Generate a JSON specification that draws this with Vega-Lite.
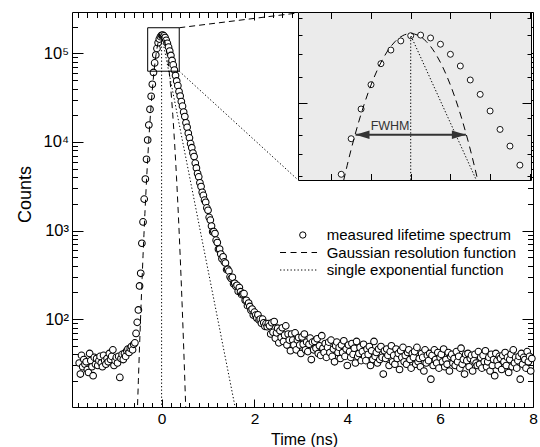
{
  "$schema": "https://vega.github.io/schema/vega-lite/v6.json",
  "width": 461,
  "height": 395,
  "autosize": {"type": "none"},
  "padding": {"left": 72, "top": 12, "right": 7, "bottom": 40},
  "background": "white",
  "config": {
    "font": "Liberation Sans",
    "view": {"stroke": null},
    "axis": {"grid": false, "labelFont": "Liberation Sans", "titleFont": "Liberation Sans", "labelColor": "black", "titleColor": "black", "domainColor": "black", "tickColor": "black", "titleFontWeight": "normal", "labelFontSize": 15.5, "titleFontSize": 16, "tickWidth": 1, "domainWidth": 1, "labelFlush": false, "labelOverlap": false, "labelBound": false},
    "legend": {"labelFont": "Liberation Sans", "labelFontSize": 15, "labelColor": "black", "labelLimit": 400, "padding": 0, "symbolOffset": 0, "rowPadding": 1.5, "labelOffset": 16.4, "symbolStrokeWidth": 1, "symbolStrokeColor": "black"}
  },
  "datasets": {
    "measured": [
      {"t":-1.775,"v":32},{"t":-1.75,"v":24},{"t":-1.725,"v":39},{"t":-1.7,"v":29},{"t":-1.675,"v":35},{"t":-1.65,"v":31},{"t":-1.625,"v":33},{"t":-1.6,"v":27},{"t":-1.575,"v":25},{"t":-1.55,"v":41},
      {"t":-1.525,"v":34},{"t":-1.5,"v":29},{"t":-1.475,"v":23},{"t":-1.45,"v":37},{"t":-1.425,"v":31},{"t":-1.4,"v":36},{"t":-1.375,"v":30},{"t":-1.35,"v":34},{"t":-1.325,"v":38},{"t":-1.3,"v":32},
      {"t":-1.275,"v":29},{"t":-1.25,"v":39},{"t":-1.225,"v":34},{"t":-1.2,"v":31},{"t":-1.175,"v":36},{"t":-1.15,"v":33},{"t":-1.125,"v":41},{"t":-1.1,"v":35},{"t":-1.075,"v":38},{"t":-1.05,"v":45},
      {"t":-1.025,"v":30},{"t":-1.0,"v":34},{"t":-0.975,"v":37},{"t":-0.95,"v":32},{"t":-0.925,"v":38},{"t":-0.9,"v":22},{"t":-0.875,"v":36},{"t":-0.85,"v":40},{"t":-0.825,"v":35},{"t":-0.8,"v":41},
      {"t":-0.775,"v":38},{"t":-0.75,"v":44},{"t":-0.725,"v":46},{"t":-0.7,"v":42},{"t":-0.675,"v":47},{"t":-0.65,"v":49},{"t":-0.625,"v":45},{"t":-0.6,"v":52},{"t":-0.575,"v":54},{"t":-0.55,"v":69},
      {"t":-0.525,"v":92},{"t":-0.5,"v":127},{"t":-0.475,"v":237},{"t":-0.45,"v":329},{"t":-0.425,"v":718},{"t":-0.4,"v":1250},{"t":-0.375,"v":2260},{"t":-0.35,"v":3810},{"t":-0.325,"v":6370},{"t":-0.3,"v":10500},
      {"t":-0.275,"v":15500},{"t":-0.25,"v":23300},{"t":-0.225,"v":32700},{"t":-0.2,"v":44700},{"t":-0.175,"v":60700},{"t":-0.15,"v":77800},{"t":-0.125,"v":95700},{"t":-0.1,"v":113400},{"t":-0.075,"v":131300},{"t":-0.05,"v":144400},
      {"t":-0.025,"v":153900},{"t":0,"v":159600},{"t":0.025,"v":160300},{"t":0.05,"v":157100},{"t":0.075,"v":150400},{"t":0.1,"v":140200},{"t":0.125,"v":129200},{"t":0.15,"v":117200},{"t":0.175,"v":106000},{"t":0.2,"v":94400},
      {"t":0.225,"v":83000},{"t":0.25,"v":73900},{"t":0.275,"v":64700},{"t":0.3,"v":56200},{"t":0.325,"v":48700},{"t":0.35,"v":43100},{"t":0.375,"v":37000},{"t":0.4,"v":32900},{"t":0.425,"v":28500},{"t":0.45,"v":25300},
      {"t":0.475,"v":21700},{"t":0.5,"v":19300},{"t":0.525,"v":16400},{"t":0.55,"v":14600},{"t":0.575,"v":12500},{"t":0.6,"v":11100},{"t":0.625,"v":9550},{"t":0.65,"v":8600},{"t":0.675,"v":7480},{"t":0.7,"v":6830},
      {"t":0.725,"v":5760},{"t":0.75,"v":5080},{"t":0.775,"v":4400},{"t":0.8,"v":4030},{"t":0.825,"v":3460},{"t":0.85,"v":3130},{"t":0.875,"v":2700},{"t":0.9,"v":2490},{"t":0.925,"v":2200},{"t":0.95,"v":2080},
      {"t":0.975,"v":1800},{"t":1.0,"v":1693},{"t":1.025,"v":1407},{"t":1.05,"v":1310},{"t":1.075,"v":1124},{"t":1.1,"v":969},{"t":1.125,"v":972},{"t":1.15,"v":923},{"t":1.175,"v":778},{"t":1.2,"v":731},
      {"t":1.225,"v":614},{"t":1.25,"v":618},{"t":1.275,"v":543},{"t":1.3,"v":481},{"t":1.325,"v":506},{"t":1.35,"v":443},{"t":1.375,"v":430},{"t":1.4,"v":362},{"t":1.425,"v":366},{"t":1.45,"v":348},
      {"t":1.475,"v":300},{"t":1.5,"v":288},{"t":1.525,"v":297},{"t":1.55,"v":250},{"t":1.575,"v":254},{"t":1.6,"v":235},{"t":1.625,"v":241},{"t":1.65,"v":206},{"t":1.675,"v":227},{"t":1.7,"v":204},
      {"t":1.725,"v":189},{"t":1.75,"v":192},{"t":1.775,"v":194},{"t":1.8,"v":163},{"t":1.825,"v":163},{"t":1.85,"v":142},{"t":1.875,"v":152},{"t":1.9,"v":139},{"t":1.925,"v":126},{"t":1.95,"v":130},
      {"t":1.975,"v":111},{"t":2.0,"v":120},{"t":2.025,"v":111},{"t":2.05,"v":103},{"t":2.075,"v":112},{"t":2.1,"v":98},{"t":2.125,"v":100},{"t":2.15,"v":90},{"t":2.175,"v":100},{"t":2.2,"v":91},
      {"t":2.225,"v":83},{"t":2.25,"v":89},{"t":2.275,"v":82},{"t":2.3,"v":89},{"t":2.325,"v":84},{"t":2.35,"v":68},{"t":2.375,"v":91},{"t":2.4,"v":71},{"t":2.425,"v":94},{"t":2.45,"v":61},
      {"t":2.475,"v":70},{"t":2.5,"v":79},{"t":2.525,"v":54},{"t":2.55,"v":74},{"t":2.575,"v":62},{"t":2.6,"v":80},{"t":2.625,"v":56},{"t":2.65,"v":66},{"t":2.675,"v":84},{"t":2.7,"v":51},
      {"t":2.725,"v":68},{"t":2.75,"v":58},{"t":2.775,"v":44},{"t":2.8,"v":68},{"t":2.825,"v":58},{"t":2.85,"v":51},{"t":2.875,"v":70},{"t":2.9,"v":45},{"t":2.925,"v":58},{"t":2.95,"v":62},
      {"t":2.975,"v":51},{"t":3.0,"v":41},{"t":3.025,"v":63},{"t":3.05,"v":52},{"t":3.075,"v":68},{"t":3.1,"v":45},{"t":3.125,"v":55},{"t":3.15,"v":43},{"t":3.175,"v":52},{"t":3.2,"v":61},
      {"t":3.225,"v":35},{"t":3.25,"v":55},{"t":3.275,"v":45},{"t":3.3,"v":56},{"t":3.325,"v":47},{"t":3.35,"v":60},{"t":3.375,"v":41},{"t":3.4,"v":50},{"t":3.425,"v":39},{"t":3.45,"v":65},
      {"t":3.475,"v":47},{"t":3.5,"v":42},{"t":3.525,"v":53},{"t":3.55,"v":37},{"t":3.575,"v":48},{"t":3.6,"v":55},{"t":3.625,"v":42},{"t":3.65,"v":58},{"t":3.675,"v":38},{"t":3.7,"v":46},
      {"t":3.725,"v":33},{"t":3.75,"v":50},{"t":3.775,"v":55},{"t":3.8,"v":42},{"t":3.825,"v":48},{"t":3.85,"v":36},{"t":3.875,"v":51},{"t":3.9,"v":42},{"t":3.925,"v":57},{"t":3.95,"v":38},
      {"t":3.975,"v":46},{"t":4.0,"v":30},{"t":4.025,"v":51},{"t":4.05,"v":43},{"t":4.075,"v":37},{"t":4.1,"v":53},{"t":4.125,"v":40},{"t":4.15,"v":47},{"t":4.175,"v":32},{"t":4.2,"v":56},
      {"t":4.225,"v":38},{"t":4.25,"v":41},{"t":4.275,"v":48},{"t":4.3,"v":34},{"t":4.325,"v":43},{"t":4.35,"v":52},{"t":4.375,"v":38},{"t":4.4,"v":34},{"t":4.425,"v":46},{"t":4.45,"v":40},
      {"t":4.475,"v":49},{"t":4.5,"v":30},{"t":4.525,"v":44},{"t":4.55,"v":35},{"t":4.575,"v":56},{"t":4.6,"v":38},{"t":4.625,"v":42},{"t":4.65,"v":32},{"t":4.675,"v":46},{"t":4.7,"v":35},
      {"t":4.725,"v":49},{"t":4.75,"v":37},{"t":4.775,"v":24},{"t":4.8,"v":44},{"t":4.825,"v":36},{"t":4.85,"v":46},{"t":4.875,"v":39},{"t":4.9,"v":30},{"t":4.925,"v":43},{"t":4.95,"v":50},
      {"t":4.975,"v":33},{"t":5.0,"v":39},{"t":5.025,"v":31},{"t":5.05,"v":46},{"t":5.075,"v":36},{"t":5.1,"v":41},{"t":5.125,"v":27},{"t":5.15,"v":44},{"t":5.175,"v":37},{"t":5.2,"v":48},
      {"t":5.225,"v":33},{"t":5.25,"v":39},{"t":5.275,"v":31},{"t":5.3,"v":42},{"t":5.325,"v":45},{"t":5.35,"v":35},{"t":5.375,"v":28},{"t":5.4,"v":41},{"t":5.425,"v":37},{"t":5.45,"v":43},
      {"t":5.475,"v":31},{"t":5.5,"v":48},{"t":5.525,"v":33},{"t":5.55,"v":36},{"t":5.575,"v":29},{"t":5.6,"v":41},{"t":5.625,"v":37},{"t":5.65,"v":26},{"t":5.675,"v":45},{"t":5.7,"v":32},
      {"t":5.725,"v":39},{"t":5.75,"v":34},{"t":5.775,"v":41},{"t":5.8,"v":21},{"t":5.825,"v":39},{"t":5.85,"v":30},{"t":5.875,"v":45},{"t":5.9,"v":35},{"t":5.925,"v":32},{"t":5.95,"v":42},
      {"t":5.975,"v":28},{"t":6.0,"v":37},{"t":6.025,"v":40},{"t":6.05,"v":33},{"t":6.075,"v":46},{"t":6.1,"v":29},{"t":6.125,"v":35},{"t":6.15,"v":31},{"t":6.175,"v":42},{"t":6.2,"v":26},
      {"t":6.225,"v":38},{"t":6.25,"v":40},{"t":6.275,"v":32},{"t":6.3,"v":36},{"t":6.325,"v":30},{"t":6.35,"v":43},{"t":6.375,"v":33},{"t":6.4,"v":38},{"t":6.425,"v":28},{"t":6.45,"v":47},
      {"t":6.475,"v":31},{"t":6.5,"v":35},{"t":6.525,"v":24},{"t":6.55,"v":40},{"t":6.575,"v":34},{"t":6.6,"v":41},{"t":6.625,"v":29},{"t":6.65,"v":36},{"t":6.675,"v":39},{"t":6.7,"v":26},
      {"t":6.725,"v":34},{"t":6.75,"v":40},{"t":6.775,"v":32},{"t":6.8,"v":30},{"t":6.825,"v":43},{"t":6.85,"v":31},{"t":6.875,"v":37},{"t":6.9,"v":28},{"t":6.925,"v":39},{"t":6.95,"v":33},
      {"t":6.975,"v":44},{"t":7.0,"v":29},{"t":7.025,"v":33},{"t":7.05,"v":37},{"t":7.075,"v":26},{"t":7.1,"v":40},{"t":7.125,"v":30},{"t":7.15,"v":35},{"t":7.175,"v":23},{"t":7.2,"v":41},
      {"t":7.225,"v":34},{"t":7.25,"v":30},{"t":7.275,"v":38},{"t":7.3,"v":36},{"t":7.325,"v":27},{"t":7.35,"v":39},{"t":7.375,"v":33},{"t":7.4,"v":42},{"t":7.425,"v":30},{"t":7.45,"v":37},
      {"t":7.475,"v":25},{"t":7.5,"v":35},{"t":7.525,"v":40},{"t":7.55,"v":29},{"t":7.575,"v":45},{"t":7.6,"v":32},{"t":7.625,"v":37},{"t":7.65,"v":28},{"t":7.675,"v":34},{"t":7.7,"v":38},
      {"t":7.725,"v":21},{"t":7.75,"v":41},{"t":7.775,"v":31},{"t":7.8,"v":37},{"t":7.825,"v":35},{"t":7.85,"v":28},{"t":7.875,"v":43},{"t":7.9,"v":33},{"t":7.925,"v":38},{"t":7.95,"v":26},
      {"t":7.975,"v":36}
    ],
    "gauss": [
      {"t":-0.56,"v":2.09},{"t":-0.54,"v":4.6},{"t":-0.52,"v":9.86},{"t":-0.5,"v":20.5},{"t":-0.48,"v":41.5},{"t":-0.46,"v":81.4},{"t":-0.44,"v":155.4},{"t":-0.42,"v":288},{"t":-0.4,"v":518.7},{"t":-0.38,"v":908},
      {"t":-0.36,"v":1545},{"t":-0.34,"v":2554},{"t":-0.32,"v":4101},{"t":-0.3,"v":6400},{"t":-0.28,"v":9711},{"t":-0.26,"v":14308},{"t":-0.24,"v":20487},{"t":-0.22,"v":28506},{"t":-0.2,"v":38537},{"t":-0.18,"v":50623},
      {"t":-0.16,"v":64620},{"t":-0.14,"v":80153},{"t":-0.12,"v":96604},{"t":-0.1,"v":113136},{"t":-0.08,"v":128750},{"t":-0.06,"v":142360},{"t":-0.04,"v":152957},{"t":-0.02,"v":159690},{"t":0,"v":162000},
      {"t":0.02,"v":159690},{"t":0.04,"v":152957},{"t":0.06,"v":142360},{"t":0.08,"v":128750},{"t":0.1,"v":113136},{"t":0.12,"v":96604},{"t":0.14,"v":80153},{"t":0.16,"v":64620},{"t":0.18,"v":50623},{"t":0.2,"v":38537},
      {"t":0.22,"v":28506},{"t":0.24,"v":20487},{"t":0.26,"v":14308},{"t":0.28,"v":9711},{"t":0.3,"v":6400},{"t":0.32,"v":4101},{"t":0.34,"v":2554},{"t":0.36,"v":1545},{"t":0.38,"v":908},{"t":0.4,"v":518.7},
      {"t":0.42,"v":288},{"t":0.44,"v":155.4},{"t":0.46,"v":81.4},{"t":0.48,"v":41.5},{"t":0.5,"v":20.5},{"t":0.52,"v":9.86},{"t":0.54,"v":4.6},{"t":0.56,"v":2.09}
    ],
    "gaussInset": [
      {"t":-0.169,"v":58100},{"t":-0.16,"v":64620},{"t":-0.14,"v":80153},{"t":-0.12,"v":96604},{"t":-0.1,"v":113136},{"t":-0.08,"v":128750},{"t":-0.06,"v":142360},{"t":-0.04,"v":152957},{"t":-0.02,"v":159690},{"t":0,"v":162000},
      {"t":0.02,"v":159690},{"t":0.04,"v":152957},{"t":0.06,"v":142360},{"t":0.08,"v":128750},{"t":0.1,"v":113136},{"t":0.12,"v":96604},{"t":0.14,"v":80153},{"t":0.16,"v":64620},{"t":0.169,"v":58100}
    ]
  },
  "resolve": {"scale": {"x": "independent", "y": "independent"}},
  "layer": [
    {
      "encoding": {
        "x": {"field": "t", "type": "quantitative",
          "scale": {"domain": [-1.93, 8], "nice": false, "zero": false},
          "axis": {"orient": "bottom", "title": "Time (ns)", "titleX": 232, "titleY": 24, "titleAnchor": "middle",
            "values": [-1.8,-1.6,-1.4,-1.2,-1,-0.8,-0.6,-0.4,-0.2,0,0.2,0.4,0.6,0.8,1,1.2,1.4,1.6,1.8,2,2.2,2.4,2.6,2.8,3,3.2,3.4,3.6,3.8,4,4.2,4.4,4.6,4.8,5,5.2,5.4,5.6,5.8,6,6.2,6.4,6.6,6.8,7,7.2,7.4,7.6,7.8,8],
            "tickSize": {"condition": {"test": "datum.value % 2 === 0", "value": -8}, "value": -4.5},
            "labelPadding": 12.5,
            "labelExpr": "datum.value % 2 === 0 ? format(datum.value, 'd') : ''"}},
        "y": {"field": "v", "type": "quantitative",
          "scale": {"type": "log", "domain": [10.2, 292000], "nice": false},
          "axis": {"orient": "left", "title": "Counts", "titleX": -38, "titleY": 182, "titleAnchor": "middle", "titleFontSize": 18, "labelFontSize": 16.5,
            "values": [20,30,40,50,60,70,80,90,100,200,300,400,500,600,700,800,900,1000,2000,3000,4000,5000,6000,7000,8000,9000,10000,20000,30000,40000,50000,60000,70000,80000,90000,100000,200000],
            "tickSize": {"condition": {"test": "datum.value === 100 || datum.value === 1000 || datum.value === 10000 || datum.value === 100000", "value": -11}, "value": -5.5},
            "labelPadding": 14.5,
            "labelExpr": "datum.value === 100 ? '10²' : datum.value === 1000 ? '10³' : datum.value === 10000 ? '10⁴' : datum.value === 100000 ? '10⁵' : ''"}}
      },
      "layer": [
        {
          "data": {"name": "measured"},
          "mark": {"type": "point", "filled": false, "fill": "white", "strokeWidth": 1.05, "size": 44, "opacity": 1},
          "encoding": {
            "color": {"datum": "measured lifetime spectrum", "type": "nominal",
              "scale": {"domain": ["measured lifetime spectrum"], "range": ["black"]},
              "legend": {"title": null, "orient": "none", "legendX": 223.3, "legendY": 215.5, "symbolSize": 40, "symbolType": "circle", "symbolStrokeWidth": 1}}
          }
        },
        {
          "data": {"values": [{"t": -0.3, "v": 62700, "t2": 0.38, "v2": 194000}]},
          "mark": {"type": "rect", "fill": "transparent", "stroke": "black", "strokeWidth": 1},
          "encoding": {"x2": {"field": "t2"}, "y2": {"field": "v2"}}
        },
        {
          "data": {"values": [{"t": 0.38, "v": 194000, "t2": 2.939, "v2": 285000}]},
          "mark": {"type": "rule", "stroke": "black", "strokeWidth": 1, "strokeDash": [6, 4]},
          "encoding": {"x2": {"field": "t2"}, "y2": {"field": "v2"}}
        },
        {
          "data": {"values": [{"t": 0.38, "v": 62700, "t2": 2.939, "v2": 3720}]},
          "mark": {"type": "rule", "stroke": "black", "strokeWidth": 1, "strokeDash": [1.3, 2.2]},
          "encoding": {"x2": {"field": "t2"}, "y2": {"field": "v2"}}
        },
        {
          "data": {"name": "gauss"},
          "mark": {"type": "line", "stroke": "black", "strokeWidth": 1, "clip": true},
          "encoding": {
            "strokeDash": {"datum": "Gaussian resolution function", "type": "nominal",
              "scale": {"domain": ["Gaussian resolution function", "single exponential function"], "range": [[6, 4.5], [1.3, 2.2]]},
              "legend": {"title": null, "orient": "none", "legendX": 223.3, "legendY": 233, "symbolType": "M-7.2,0L4.5,0", "symbolSize": 40, "symbolStrokeColor": "black", "symbolStrokeWidth": 1}}
          }
        },
        {
          "data": {"values": [{"t": 0, "v": 9}, {"t": 0, "v": 160000}, {"t": 1.6, "v": 9.2}]},
          "mark": {"type": "line", "stroke": "black", "strokeWidth": 1, "clip": true},
          "encoding": {"strokeDash": {"datum": "single exponential function", "type": "nominal"}, "order": {"value": null}}
        }
      ]
    },
    {
      "data": {"values": [{"t": 0, "v": 100}]},
      "mark": {"type": "point", "opacity": 0},
      "encoding": {
        "x": {"field": "t", "type": "quantitative",
          "scale": {"domain": [-1.93, 8], "nice": false, "zero": false},
          "axis": {"orient": "top", "title": null, "labels": false,
            "values": [-1.8,-1.6,-1.4,-1.2,-1,-0.8,-0.6,-0.4,-0.2,0,0.2,0.4,0.6,0.8,1,1.2,1.4,1.6,1.8,2,2.2,2.4,2.6,2.8,3,3.2,3.4,3.6,3.8,4,4.2,4.4,4.6,4.8,5,5.2,5.4,5.6,5.8,6,6.2,6.4,6.6,6.8,7,7.2,7.4,7.6,7.8,8],
            "tickSize": {"condition": {"test": "datum.value % 2 === 0", "value": -8}, "value": -5.5}}},
        "y": {"field": "v", "type": "quantitative",
          "scale": {"type": "log", "domain": [10.2, 292000], "nice": false},
          "axis": {"orient": "right", "title": null, "labels": false,
            "values": [20,30,40,50,60,70,80,90,100,200,300,400,500,600,700,800,900,1000,2000,3000,4000,5000,6000,7000,8000,9000,10000,20000,30000,40000,50000,60000,70000,80000,90000,100000,200000],
            "tickSize": {"condition": {"test": "datum.value === 100 || datum.value === 1000 || datum.value === 10000 || datum.value === 100000", "value": -11}, "value": -5.5}}}
      }
    },
    {
      "encoding": {
        "x": {"field": "t", "type": "quantitative",
          "scale": {"domain": [-0.2839, 0.303], "range": [226, 459], "nice": false, "zero": false},
          "axis": {"orient": "bottom", "offset": -227, "title": null, "labels": false, "zindex": 1,
            "values": [-0.2, -0.1, 0, 0.1, 0.2, 0.3], "tickSize": -6.5}},
        "y": {"field": "v", "type": "quantitative",
          "scale": {"type": "log", "domain": [58330, 188300], "range": [168, 0], "nice": false},
          "axis": {"orient": "left", "offset": -226, "title": null, "labels": false, "zindex": 1,
            "values": [60000, 70000, 80000, 90000, 100000, 120000, 140000, 160000, 180000],
            "tickSize": {"condition": {"test": "datum.value === 100000", "value": -9}, "value": -4}}}
      },
      "layer": [
        {
          "data": {"values": [{"t": -0.2839, "v": 58330, "t2": 0.303, "v2": 188300}]},
          "mark": {"type": "rect", "fill": "#ebebeb", "strokeWidth": 0},
          "encoding": {"x2": {"field": "t2"}, "y2": {"field": "v2"}}
        },
        {
          "data": {"name": "measured"},
          "transform": [{"filter": "datum.t >= -0.28 && datum.t <= 0.3 && datum.v >= 58330"}],
          "mark": {"type": "point", "shape": "circle", "filled": false, "fill": "white", "stroke": "black", "strokeWidth": 0.9, "size": 36, "opacity": 1}
        },
        {
          "data": {"name": "gaussInset"},
          "mark": {"type": "line", "stroke": "black", "strokeWidth": 1, "strokeDash": [7, 5], "interpolate": "monotone"}
        },
        {
          "data": {"values": [{"t": 0, "v": 58400}, {"t": 0, "v": 160000}, {"t": 0.165, "v": 58400}]},
          "mark": {"type": "line", "stroke": "black", "strokeWidth": 1, "strokeDash": [1.3, 2]},
          "encoding": {"order": {"value": null}}
        },
        {
          "data": {"values": [{"t": -0.139, "v": 80000, "t2": 0.139}]},
          "mark": {"type": "rule", "stroke": "#333333", "strokeWidth": 2},
          "encoding": {"x2": {"field": "t2"}}
        },
        {
          "data": {"values": [{"t": -0.139, "v": 80000}]},
          "mark": {"type": "point", "shape": "M0,0L2,-0.6L2,0.6Z", "size": 196, "filled": true, "fill": "#333333", "strokeWidth": 0, "opacity": 1}
        },
        {
          "data": {"values": [{"t": 0.139, "v": 80000}]},
          "mark": {"type": "point", "shape": "M0,0L-2,-0.6L-2,0.6Z", "size": 196, "filled": true, "fill": "#333333", "strokeWidth": 0, "opacity": 1}
        },
        {
          "data": {"values": [{"t": -0.052, "v": 82640, "label": "FWHM"}]},
          "mark": {"type": "text", "fontSize": 12.5, "fill": "#333333", "align": "center", "baseline": "alphabetic"},
          "encoding": {"text": {"field": "label"}}
        }
      ]
    },
    {
      "data": {"values": [{"t": 0, "v": 100000}]},
      "mark": {"type": "point", "opacity": 0},
      "encoding": {
        "x": {"field": "t", "type": "quantitative",
          "scale": {"domain": [-0.2839, 0.303], "range": [226, 459], "nice": false, "zero": false},
          "axis": {"orient": "top", "offset": 0, "title": null, "labels": false, "zindex": 1,
            "values": [-0.2, -0.1, 0, 0.1, 0.2, 0.3], "tickSize": -6.5}},
        "y": {"field": "v", "type": "quantitative",
          "scale": {"type": "log", "domain": [58330, 188300], "range": [168, 0], "nice": false},
          "axis": {"orient": "right", "offset": -2, "title": null, "labels": false, "zindex": 1,
            "values": [60000, 70000, 80000, 90000, 100000, 120000, 140000, 160000, 180000],
            "tickSize": {"condition": {"test": "datum.value === 100000", "value": -9}, "value": -4}}}
      }
    }
  ]
}
